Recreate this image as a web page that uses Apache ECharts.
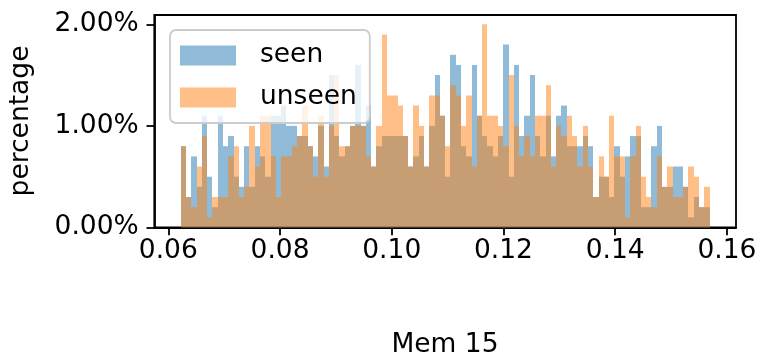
<!DOCTYPE html>
<html>
<head>
<meta charset="utf-8">
<script src="https://cdn.jsdelivr.net/npm/echarts@6/dist/echarts.min.js"></script>
<style>
html,body{margin:0;padding:0;background:#fff;}
#chart{width:760px;height:360px;}
</style>
</head>
<body>
<div id="chart"></div>
<script>
// Histogram bins (Mem 15), 100 equal bins between binMin and binMax
const binMin = 0.06222;
const binMax = 0.15690;
const binCount = 100;

// Percentage per bin
const seen = [
  0.8,0.3,0.7,0.4,1.1,0.5,0.2,1.1,0.8,0.9,
  0.5,0.4,0.8,0.4,0.8,0.7,0.5,1.1,1.1,1.2,
  1.0,1.0,0.9,0.9,0.8,0.7,1.0,0.6,1.5,0.9,
  0.7,0.8,1.0,1.6,1.0,1.2,0.6,0.8,0.9,0.9,
  0.9,0.9,0.9,0.6,0.7,0.9,0.6,1.0,1.5,1.1,
  0.5,1.7,1.6,0.8,0.7,1.6,1.1,0.9,0.8,0.7,
  0.9,1.8,0.5,1.6,0.9,1.1,1.5,0.9,0.7,1.1,
  0.7,1.1,1.2,0.8,0.8,0.8,0.9,0.8,0.3,0.5,
  0.5,0.3,0.8,0.5,0.7,0.9,0.9,0.2,0.2,0.8,
  1.0,0.4,0.4,0.6,0.6,0.4,0.1,0.3,0.2,0.2
];
const unseen = [
  0.8,0.3,0.2,0.6,0.9,0.1,0.3,0.3,0.3,0.7,
  0.8,0.3,0.4,1.0,0.6,1.1,1.1,0.7,0.3,0.7,
  0.7,0.8,0.9,1.2,0.8,0.5,1.1,0.5,1.0,1.5,
  0.8,0.8,1.0,1.0,1.0,0.7,0.6,1.0,1.9,1.3,
  1.3,1.2,0.9,0.6,1.2,1.0,0.6,1.3,1.3,1.1,
  0.8,1.4,1.3,1.0,1.3,0.6,1.1,2.0,1.1,1.1,
  1.0,0.8,1.5,1.0,0.7,0.9,0.7,1.1,1.1,1.4,
  0.6,1.0,0.9,1.1,0.9,0.6,1.0,0.6,0.3,0.7,
  0.5,1.1,0.7,0.7,0.1,0.7,1.0,0.5,0.3,0.2,
  0.7,0.4,0.6,0.3,0.3,0.4,0.6,0.5,0.2,0.4
];

const xTicks = [0.06, 0.08, 0.10, 0.12, 0.14, 0.16];
const yTicks = [0, 1, 2];
const seriesNames = ['seen', 'unseen'];

const binW = (binMax - binMin) / binCount;
function toData(arr) {
  return arr.map((v, i) => [binMin + i * binW, binMin + (i + 1) * binW, v]);
}
function renderBar(params, api) {
  const p0 = api.coord([api.value(0), api.value(2)]);
  const p1 = api.coord([api.value(1), 0]);
  const x0 = Math.round(p0[0]);
  const x1 = Math.round(p1[0]);
  return {
    type: 'rect',
    shape: { x: x0, y: p0[1], width: x1 - x0, height: p1[1] - p0[1] },
    style: api.style()
  };
}

const FONT = 'DejaVu Sans';
const FS = 26.5;
const chart = echarts.init(document.getElementById('chart'), null, { renderer: 'canvas' });
chart.setOption({
  animation: false,
  backgroundColor: '#ffffff',
  grid: {
    left: 154.3, top: 15, width: 581.7, height: 212.5,
    show: true, borderColor: '#000', borderWidth: 1.8, backgroundColor: 'transparent'
  },
  legend: {
    orient: 'vertical',
    left: 170, top: 30,
    padding: [12, 13, 12, 10],
    itemWidth: 56, itemHeight: 20, itemGap: 15,
    backgroundColor: 'rgba(255,255,255,0.8)',
    borderColor: '#cccccc', borderWidth: 1.8, borderRadius: 6,
    textStyle: { fontFamily: FONT, fontSize: FS, color: '#000', lineHeight: 20, padding: [0, 0, 0, 19] },
    data: [
      { name: seriesNames[0], icon: 'rect' },
      { name: seriesNames[1], icon: 'rect' }
    ],
    z: 10
  },
  xAxis: {
    type: 'value',
    min: 0.05749, max: 0.16163,
    axisLine: { show: true, onZero: false, lineStyle: { color: '#000', width: 1.8 } },
    axisTick: { show: true, length: 7.8, lineStyle: { color: '#000', width: 1.8 }, customValues: xTicks },
    axisLabel: {
      customValues: xTicks, margin: 10, color: '#000', fontFamily: FONT, fontSize: FS,
      formatter: v => v.toFixed(2)
    },
    splitLine: { show: false }
  },
  yAxis: {
    type: 'value',
    min: 0, max: 2.0915,
    axisLine: { show: true, lineStyle: { color: '#000', width: 1.8 } },
    axisTick: { show: true, length: 7.8, lineStyle: { color: '#000', width: 1.8 }, customValues: yTicks },
    axisLabel: {
      customValues: yTicks, margin: 15.6, color: '#000', fontFamily: FONT, fontSize: FS,
      formatter: v => v.toFixed(2) + '%'
    },
    splitLine: { show: false }
  },
  graphic: [
    {
      type: 'text', x: 21, y: 121, rotation: Math.PI / 2,
      style: { text: 'percentage', fontFamily: FONT, fontSize: FS, fill: '#000', align: 'center', verticalAlign: 'middle' }
    },
    {
      type: 'text', x: 445, y: 345,
      style: { text: 'Mem 15', fontFamily: FONT, fontSize: FS, fill: '#000', align: 'center', verticalAlign: 'middle' }
    }
  ],
  series: [
    {
      name: seriesNames[0], type: 'custom', renderItem: renderBar,
      encode: { x: [0, 1], y: 2 },
      itemStyle: { color: 'rgba(31,119,180,0.5)' },
      data: toData(seen)
    },
    {
      name: seriesNames[1], type: 'custom', renderItem: renderBar,
      encode: { x: [0, 1], y: 2 },
      itemStyle: { color: 'rgba(255,127,14,0.5)' },
      data: toData(unseen)
    }
  ]
});
</script>
</body>
</html>
